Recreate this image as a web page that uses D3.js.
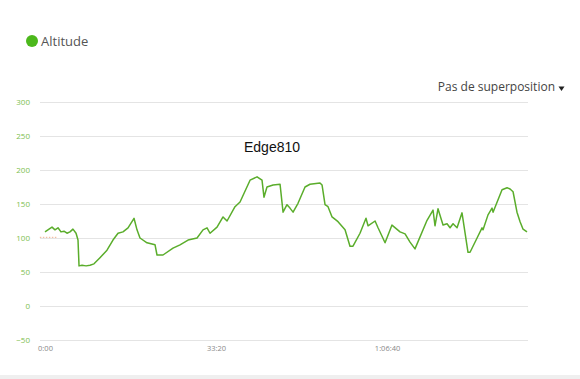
<!DOCTYPE html>
<html><head><meta charset="utf-8">
<script src="https://cdn.jsdelivr.net/npm/d3@7/dist/d3.min.js"></script>
<style>
html,body{margin:0;padding:0;background:#fff;}
svg{display:block;}
</style></head>
<body>
<svg id="c" width="580" height="379"></svg>
<script>
const seriesName = "Altitude";
const deviceName = "Edge810";
const overlayLabel = "Pas de superposition";
const yTicks = [-50, 0, 50, 100, 150, 200, 250, 300];
const xTicks = [0, 2000, 4000];
const times = [0,47,82,117,152,187,222,257,292,327,363,386,398,433,480,526,573,643,725,795,854,912,971,1041,1076,1111,1193,1287,1310,1380,1497,1579,1673,1778,1848,1895,1930,2012,2082,2129,2222,2281,2398,2480,2538,2561,2596,2667,2749,2784,2830,2865,2901,2959,3041,3099,3216,3240,3275,3310,3357,3427,3509,3567,3602,3684,3754,3778,3860,3895,3977,4058,4152,4211,4269,4327,4468,4538,4561,4596,4655,4702,4737,4772,4819,4877,4947,4971,5053,5111,5123,5181,5228,5240,5345,5404,5439,5474,5520,5556,5591,5637];
const altitude = [109,113,116,112,115,109,110,107,109,113,107,97,59,60,59,60,62,71,82,97,107,109,115,129,112,100,93,90,75,75,85,90,97,100,112,115,107,116,131,125,146,153,185,190,185,160,175,178,179,138,149,144,138,151,175,179,181,178,149,146,131,124,112,88,88,107,129,118,125,115,93,119,109,106,94,84,126,141,118,143,119,121,115,121,115,137,79,79,100,115,112,134,144,138,171,174,172,168,138,124,113,109];
const markerTimes = [-60, 140];
const markerValue = 101;

const svg = d3.select("#c");
const x = d3.scaleLinear().domain([0, 5637]).range([45, 527]);
const y = d3.scaleLinear().domain([-50, 300]).range([340, 102]);
const green = "#5aad2b";

// bottom strip
svg.append("rect").attr("x",0).attr("y",375).attr("width",580).attr("height",4).attr("fill","#efefef");

// legend
svg.append("circle").attr("cx",32).attr("cy",41).attr("r",6).attr("fill","#4cb81c");
svg.append("text").attr("x",41).attr("y",46).attr("font-family","'Open Sans', sans-serif")
  .attr("font-size",13).attr("fill","#555").text(seriesName);

// overlay dropdown
svg.append("text").attr("x",555).attr("y",91).attr("text-anchor","end")
  .attr("font-family","'Open Sans', sans-serif").attr("font-size",12).attr("fill","#444").text(overlayLabel);
svg.append("path").attr("d","M558.5,86.5 L564.5,86.5 L561.5,91 Z").attr("fill","#222");

// grid
const yAxis = d3.axisLeft(y).tickValues(yTicks).tickSize(-(528-40)).tickPadding(10);
const gy = svg.append("g").attr("transform","translate(40,0)").call(yAxis);
gy.select(".domain").remove();
gy.selectAll(".tick line").attr("stroke","#e4e4e4").attr("stroke-width",1);
gy.selectAll(".tick text").attr("fill","#7cc050").attr("font-size",8)
  .attr("font-family","'Open Sans', sans-serif").attr("dy","0.35em");

const fmt = s => { const h=Math.floor(s/3600), m=Math.floor((s%3600)/60), sec=s%60;
  const p=n=>String(n).padStart(2,"0"); return h>0 ? h+":"+p(m)+":"+p(sec) : m+":"+p(sec); };
const xAxis = d3.axisBottom(x).tickValues(xTicks).tickFormat(fmt).tickSize(0).tickPadding(0);
const gx = svg.append("g").attr("transform","translate(0,348)").call(xAxis);
gx.select(".domain").remove();
gx.selectAll(".tick text").attr("fill","#888").attr("font-size",7.5)
  .attr("font-family","'Open Sans', sans-serif").attr("dy","0.35em");

// marker dotted
svg.append("line").attr("x1",x(markerTimes[0])).attr("x2",x(markerTimes[1]))
  .attr("y1",y(markerValue)).attr("y2",y(markerValue))
  .attr("stroke","#f0b090").attr("stroke-width",1).attr("stroke-dasharray","1.5,1.5");

// line
const data = times.map((t,i)=>({t, v:altitude[i]}));
svg.append("path").datum(data)
  .attr("d", d3.line().x(d=>x(d.t)).y(d=>y(d.v)))
  .attr("fill","none").attr("stroke",green).attr("stroke-width",1.5).attr("stroke-linejoin","round");

// title
svg.append("text").attr("x",272).attr("y",152).attr("text-anchor","middle")
  .attr("font-family","'Liberation Sans', Arial, sans-serif").attr("font-size",14).attr("fill","#111").text(deviceName);
</script>
</body></html>
